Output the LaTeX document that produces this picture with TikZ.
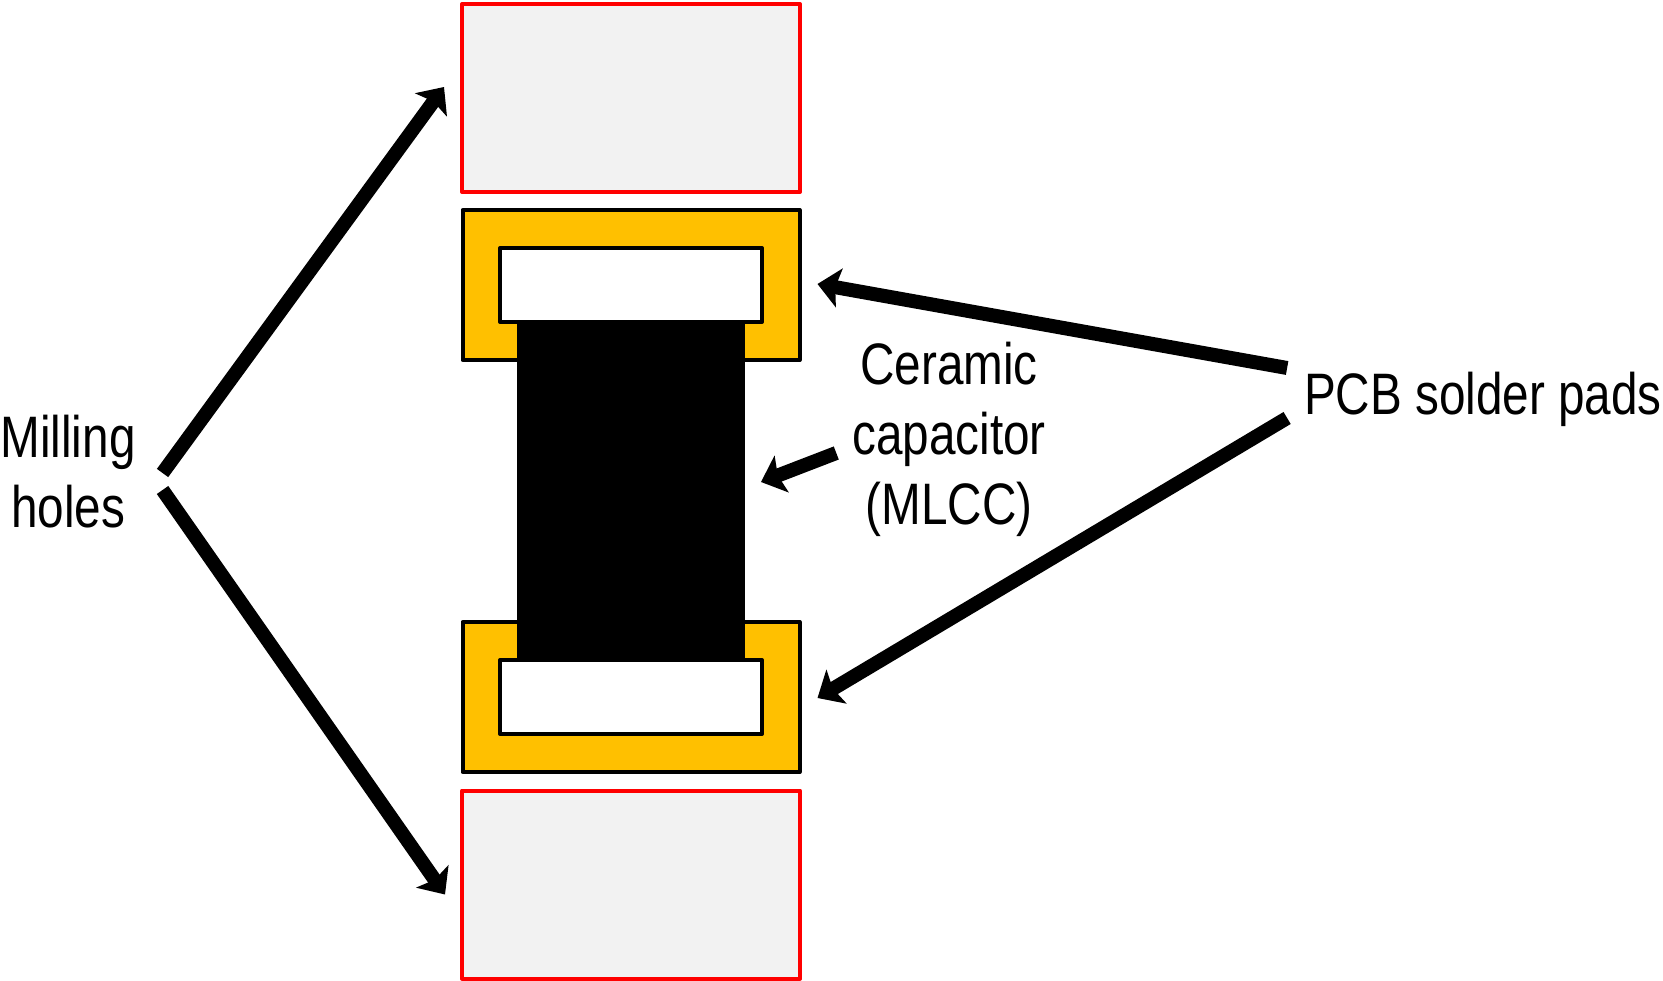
\documentclass[tikz,border=0pt]{standalone}
\usepackage{fontspec}
\setmainfont[FakeStretch=0.815]{Liberation Sans}
\usetikzlibrary{arrows.meta,calc}

\definecolor{padorange}{HTML}{FFC000}
\definecolor{holegray}{HTML}{F2F2F2}

\begin{document}
\begin{tikzpicture}
[x=1pt,y=-1pt,
every node/.style={inner sep=0pt,outer sep=0pt},
hole/.style={draw=red,fill=holegray,line width=4pt,line join=round,minimum width=338pt,minimum height=188pt},
pad/.style={draw=black,fill=padorange,line width=4pt,line join=round,minimum width=337pt,minimum height=150pt},
opening/.style={draw=black,fill=white,line width=4pt,line join=round,minimum width=262pt,minimum height=74pt},
body/.style={fill=black,minimum width=228pt,minimum height=340pt},
label/.style={font=\fontsize{58.5}{70}\selectfont,align=center},
pointer/.style={line width=14pt,-{Stealth[length=22pt,width=39pt,inset=4pt]}}]
\useasboundingbox (0,0) rectangle (1663,981);
\node[hole] (upperhole) at (631,98) {};
\node[hole] (lowerhole) at (631,884.5) {};
\node[pad] (toppad) at (631,285) {};
\node[pad] (lowpad) at (631,697) {};
\node[opening] (topopening) at (631,285) {};
\node[opening] (lowopening) at (631,697) {};
\node[body] (mlcc) at (631,491) {};
\node[label] (milling) at (68,472) {Milling\\holes};
\node[label] (ceramic) at (949,439) {Ceramic\\capacitor\\(MLCC)};
\node[label] (pcbpads) at (1483,399) {PCB solder pads};
% arrows stop short of the parts they point at
\draw[pointer] ($(milling.east)+(27,1)$) -- ($(upperhole.west)+(-18,-11)$);
\draw[pointer] ($(milling.east)+(27,18)$) -- ($(lowerhole.west)+(-17,10)$);
\draw[pointer] ($(pcbpads.west)+(-17,-31)$) -- ($(toppad.east)+(18,-1)$);
\draw[pointer] ($(pcbpads.west)+(-17,19)$) -- ($(lowpad.east)+(18,1)$);
\draw[pointer] ($(ceramic.west)+(-16,14)$) -- ($(mlcc.east)+(16,-9)$);
\end{tikzpicture}
\end{document}
